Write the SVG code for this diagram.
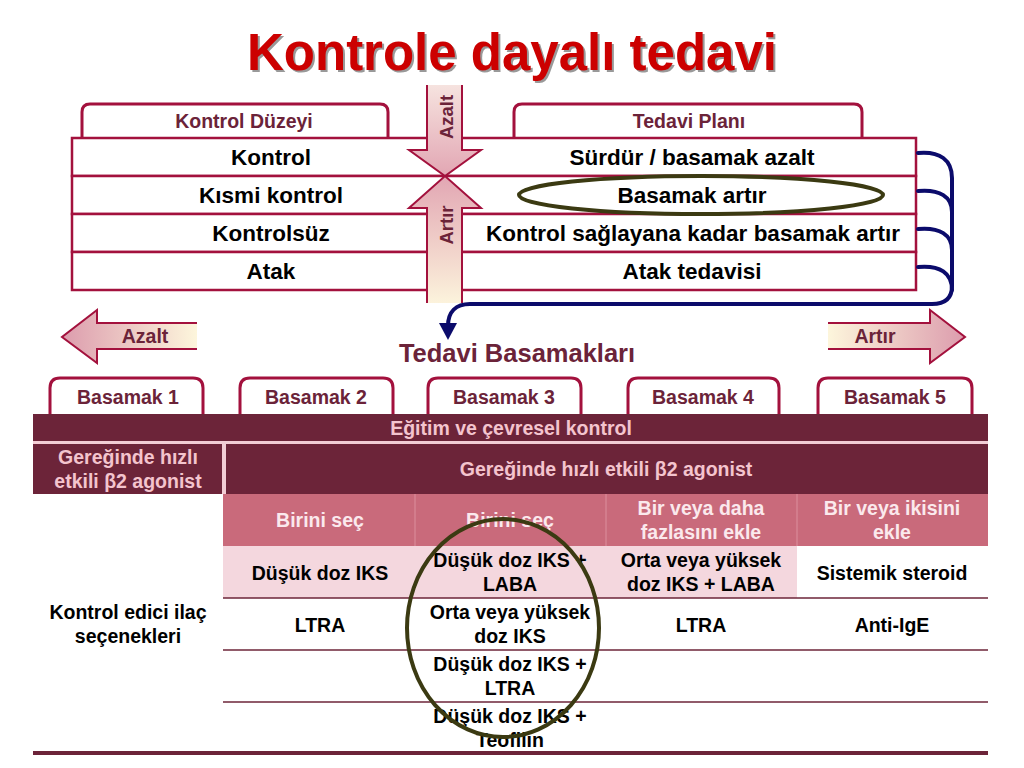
<svg xmlns="http://www.w3.org/2000/svg" width="1024" height="768" viewBox="0 0 1024 768">
<defs>
<linearGradient id="gDown" x1="0" y1="0" x2="0" y2="1"><stop offset="0" stop-color="#f6e3df"/><stop offset="1" stop-color="#e2a6b3"/></linearGradient>
<linearGradient id="gUp" x1="0" y1="1" x2="0" y2="0"><stop offset="0" stop-color="#fcf3dc"/><stop offset="1" stop-color="#e2a6b3"/></linearGradient>
<linearGradient id="gLeft" x1="0" y1="0" x2="1" y2="0"><stop offset="0" stop-color="#dc9cad"/><stop offset="1" stop-color="#fdf6dc"/></linearGradient>
<linearGradient id="gRight" x1="0" y1="0" x2="1" y2="0"><stop offset="0" stop-color="#fdf6dc"/><stop offset="1" stop-color="#dc9cad"/></linearGradient>
</defs>
<style>
text{font-family:"Liberation Sans",Arial,sans-serif;font-weight:bold;text-anchor:middle}
.tab{fill:#fff;stroke:#a3113d;stroke-width:3}
.tabt{fill:#6b2339;font-size:19.5px}
.row{fill:#fff;stroke:#a3113d;stroke-width:2.5}
.rt{fill:#000;font-size:22.5px}
.ct{fill:#000;font-size:19.5px}
.dk{fill:#6c2439}
.dkt{fill:#f4c4ce;font-size:19.5px}
.hd{fill:#c96a7b}
.hdt{fill:#fbe9ed;font-size:19.5px}
.lp{fill:#f4d7de}
.hl{stroke:#6c2439;stroke-width:1.5}
.navy{fill:none;stroke:#0b0b6b;stroke-width:4;stroke-linecap:round}
.arr{stroke:#a3113d;stroke-width:2}
.ring{fill:none;stroke:#3b3a12;stroke-width:4}
</style>

<g id="title">
<text x="514" y="72" font-size="51" fill="#999">Kontrole dayalı tedavi</text>
<text x="512" y="70" font-size="51" fill="#cc0000">Kontrole dayalı tedavi</text>
</g>

<g id="tab-kontrol-duzeyi">
<path class="tab" d="M82,138 V112 Q82,104 90,104 H380 Q388,104 388,112 V138"/>
<text class="tabt" x="244" y="128" font-size="19">Kontrol Düzeyi</text>
</g>
<g id="tab-tedavi-plani">
<path class="tab" d="M514,138 V112 Q514,104 522,104 H854 Q862,104 862,112 V138"/>
<text class="tabt" x="689" y="128" font-size="19">Tedavi Planı</text>
</g>

<g id="top-table">
<rect class="row" x="72" y="138" width="844" height="38"/>
<rect class="row" x="72" y="176" width="844" height="38"/>
<rect class="row" x="72" y="214" width="844" height="38"/>
<rect class="row" x="72" y="252" width="844" height="38"/>
</g>
<g id="row-kontrol"><text class="rt" x="271" y="165">Kontrol</text><text class="rt" x="692" y="165">Sürdür / basamak azalt</text></g>
<g id="row-kismi"><text class="rt" x="271" y="203">Kısmi kontrol</text><text class="rt" x="692" y="203">Basamak artır</text></g>
<g id="row-kontrolsuz"><text class="rt" x="271" y="241">Kontrolsüz</text><text class="rt" x="693" y="241">Kontrol sağlayana kadar basamak artır</text></g>
<g id="row-atak"><text class="rt" x="271" y="279">Atak</text><text class="rt" x="692" y="279">Atak tedavisi</text></g>

<g id="ellipse-basamak-artir"><ellipse class="ring" cx="701" cy="195" rx="182" ry="19"/></g>

<g id="arrow-azalt-v">
<path d="M427,85 V150 H409 L445,176 L481,150 H462 V85 Z" fill="url(#gDown)"/>
<path class="arr" fill="none" d="M427,85 V150 H409 L445,176 L481,150 H462 V85"/>
<text x="0" y="0" font-size="18.5" fill="#6b2339" transform="translate(452.5,117) rotate(-90)">Azalt</text>
</g>
<g id="arrow-artir-v">
<path d="M427,303 V208 H409 L445,176 L481,208 H462 V303 Z" fill="url(#gUp)"/>
<path class="arr" fill="none" d="M427,303 V208 H409 L445,176 L481,208 H462 V303"/>
<text x="0" y="0" font-size="18.5" fill="#6b2339" transform="translate(452.5,225) rotate(-90)">Artır</text>
</g>

<g id="connectors">
<path class="navy" d="M918,153 C940,151 952,160 952,178 V286 C952,298 945,304 932,304 H470 C456,304 448,312 448,326"/>
<polygon points="439,323 457,323 448,340" fill="#0b0b6b"/>
<path class="navy" d="M918,191 C940,189 952,197 952,212"/>
<path class="navy" d="M918,229 C940,227 952,235 952,250"/>
<path class="navy" d="M918,267 C940,265 952,273 952,290"/>
</g>

<g id="arrow-azalt-h">
<path d="M197,323 H97 V310 L62,337 L97,363 V349 H197 Z" fill="url(#gLeft)"/>
<path class="arr" fill="none" d="M197,323 H97 V310 L62,337 L97,363 V349 H197"/>
<text x="145" y="343" font-size="19.5" fill="#6b2339">Azalt</text>
</g>
<g id="arrow-artir-h">
<path d="M828,323 H930 V310 L965,337 L930,363 V349 H828 Z" fill="url(#gRight)"/>
<path class="arr" fill="none" d="M828,323 H930 V310 L965,337 L930,363 V349 H828"/>
<text x="875" y="343" font-size="19.5" fill="#6b2339">Artır</text>
</g>

<g id="tedavi-basamaklari"><text x="517" y="362" font-size="25.5" fill="#6b2339">Tedavi Basamakları</text></g>

<g id="basamak-1"><path class="tab" d="M50,414 V388 Q50,378 60,378 H193 Q203,378 203,388 V414"/><text class="tabt" x="128" y="404">Basamak 1</text></g>
<g id="basamak-2"><path class="tab" d="M240,414 V388 Q240,378 250,378 H383 Q393,378 393,388 V414"/><text class="tabt" x="316" y="404">Basamak 2</text></g>
<g id="basamak-3"><path class="tab" d="M428,414 V388 Q428,378 438,378 H571 Q581,378 581,388 V414"/><text class="tabt" x="504" y="404">Basamak 3</text></g>
<g id="basamak-4"><path class="tab" d="M628,414 V388 Q628,378 638,378 H769 Q779,378 779,388 V414"/><text class="tabt" x="703" y="404">Basamak 4</text></g>
<g id="basamak-5"><path class="tab" d="M818,414 V388 Q818,378 828,378 H962 Q972,378 972,388 V414"/><text class="tabt" x="895" y="404">Basamak 5</text></g>

<g id="steps-table">
<rect x="33" y="441" width="955" height="3" fill="#f2cdd5"/>
<rect class="dk" x="33" y="414" width="955" height="27"/>
<text class="dkt" x="511" y="435">Eğitim ve çevresel kontrol</text>
<rect class="dk" x="33" y="444" width="189" height="50"/>
<rect x="222" y="444" width="4" height="50" fill="#f2cdd5"/>
<rect class="dk" x="226" y="444" width="762" height="50"/>
<text class="dkt" x="128" y="464">Gereğinde hızlı</text>
<text class="dkt" x="128" y="488">etkili β2 agonist</text>
<text class="dkt" x="606" y="476">Gereğinde hızlı etkili β2 agonist</text>

<rect class="hd" x="223" y="494" width="765" height="52"/>
<line x1="415" y1="494" x2="415" y2="546" stroke="#dc8f9e" stroke-width="1"/>
<line x1="606" y1="494" x2="606" y2="546" stroke="#dc8f9e" stroke-width="1"/>
<line x1="797" y1="494" x2="797" y2="546" stroke="#dc8f9e" stroke-width="1"/>
<text class="hdt" x="320" y="527">Birini seç</text>
<text class="hdt" x="510" y="527">Birini seç</text>
<text class="hdt" x="701" y="515">Bir veya daha</text>
<text class="hdt" x="701" y="539">fazlasını ekle</text>
<text class="hdt" x="892" y="515">Bir veya ikisini</text>
<text class="hdt" x="892" y="539">ekle</text>

<rect class="lp" x="223" y="546" width="574" height="52"/>
<line class="hl" x1="223" y1="598" x2="988" y2="598"/>
<line class="hl" x1="223" y1="650" x2="988" y2="650"/>
<line class="hl" x1="223" y1="702" x2="988" y2="702"/>
<line x1="33" y1="753" x2="988" y2="753" stroke="#6c2439" stroke-width="4"/>

<text class="ct" x="128" y="619">Kontrol edici ilaç</text>
<text class="ct" x="128" y="643">seçenekleri</text>

<text class="ct" x="320" y="580">Düşük doz IKS</text>
<text class="ct" x="510" y="567">Düşük doz IKS +</text>
<text class="ct" x="510" y="591">LABA</text>
<text class="ct" x="701" y="567">Orta veya yüksek</text>
<text class="ct" x="701" y="591">doz IKS + LABA</text>
<text class="ct" x="892" y="580">Sistemik steroid</text>

<text class="ct" x="320" y="632">LTRA</text>
<text class="ct" x="510" y="619">Orta veya yüksek</text>
<text class="ct" x="510" y="643">doz IKS</text>
<text class="ct" x="701" y="632">LTRA</text>
<text class="ct" x="892" y="632">Anti-IgE</text>

<text class="ct" x="510" y="671">Düşük doz IKS +</text>
<text class="ct" x="510" y="695">LTRA</text>
<text class="ct" x="510" y="723">Düşük doz IKS +</text>
<text class="ct" x="510" y="747">Teofilin</text>
</g>

<g id="circle-basamak-3"><ellipse class="ring" cx="503" cy="628" rx="96" ry="109"/></g>
</svg>
